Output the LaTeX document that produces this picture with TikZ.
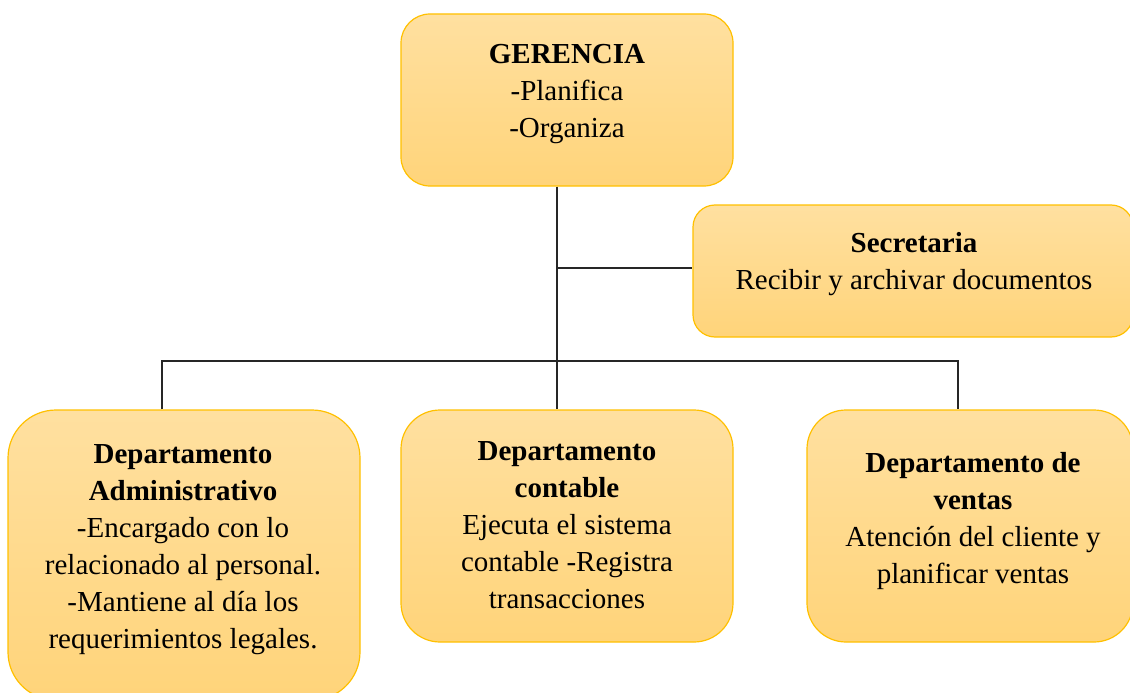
\documentclass[tikz,border=0pt]{standalone}
\usepackage{fontspec}
\setmainfont{Liberation Serif}
\definecolor{boxtop}{RGB}{255,224,160}
\definecolor{boxbot}{RGB}{255,212,122}
\definecolor{boxline}{RGB}{255,192,0}
\begin{document}
\begin{tikzpicture}[x=1pt,y=-1pt]
        \tikzset{
            box/.style args={#1:#2:#3}{
              draw=boxline, line width=1.2pt, top color=boxtop, bottom color=boxbot,
              minimum width=#1, minimum height=#2, rounded corners=#3, inner sep=0pt
            },
            txt/.style={align=center, inner sep=0pt, font=\fontsize{29}{37}\selectfont},
            link/.style={draw=black!85, line width=1.3pt}
          }
        \clip (0,0) rectangle (1130,693);

        \node[box=332:172:29] (ger) at (567,100) {};
        \node[box=440:132:22] (sec) at (913,271) {};
        \node[box=352:290:48] (adm) at (184,555) {};
        \node[box=332:232:39] (con) at (567,526) {};
        \node[box=326:232:39] (ven) at (970,526) {};

        \node[txt] (gert) at (567,94) {\textbf{GERENCIA}\\-Planifica\\-Organiza};
        \node[txt] (sect) at (914,264) {\textbf{Secretaria}\\Recibir y archivar documentos};
        \node[txt] (admt) at (183,550) {\textbf{Departamento}\\\textbf{Administrativo}\\-Encargado con lo\\relacionado al personal.\\-Mantiene al día los\\requerimientos legales.};
        \node[txt] (cont) at (567,525) {\textbf{Departamento}\\\textbf{contable}\\Ejecuta el sistema\\contable -Registra\\transacciones};
        \node[txt] (vent) at (973,521) {\textbf{Departamento de}\\\textbf{ventas}\\Atención del cliente y\\planificar ventas};

        \coordinate (tap) at (557,268);
        \coordinate (hub) at (557,361);
        \coordinate (la) at (162,361);
        \coordinate (ra) at (958,361);
        \draw[link] (ger.south -| hub) -- (con.north -| hub);
        \draw[link] (tap) -- (tap -| sec.west);
        \draw[link] (la |- adm.north) -- (la) -- (ra) -- (ra |- ven.north);
    \end{tikzpicture}
\end{document}
